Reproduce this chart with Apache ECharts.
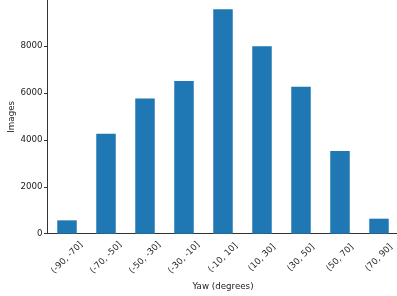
<!DOCTYPE html>
<html><head><meta charset="utf-8">
<script src="https://cdn.jsdelivr.net/npm/echarts@6/dist/echarts.min.js"></script>
<style>html,body{margin:0;padding:0;background:#fff}#c{width:397px;height:296px}</style>
</head><body><div id="c"></div>
<script>
const categories = ['(-90, -70]','(-70, -50]','(-50, -30]','(-30, -10]','(-10, 10]','(10, 30]','(30, 50]','(50, 70]','(70, 90]'];
const values = [570, 4260, 5770, 6510, 9570, 7990, 6270, 3530, 640];
const yTicks = [0, 2000, 4000, 6000, 8000];
const FS = 8.7;
const chart = echarts.init(document.getElementById('c'), null, {renderer:'canvas'});
chart.setOption({
  animation:false,
  grid:{left:47.5, top:0, width:351, height:233.7, containLabel:false, outerBoundsMode:'none'},
  xAxis:{type:'category', data:categories, boundaryGap:true,
    name:'Yaw (degrees)', nameLocation:'middle', nameGap:49, nameMoveOverlap:false,
    nameTextStyle:{fontFamily:'DejaVu Sans', fontSize:FS, color:'#222'},
    axisLine:{lineStyle:{color:'#333', width:1}},
    axisTick:{alignWithLabel:true, length:3.5, lineStyle:{color:'#333'}},
    axisLabel:{rotate:45, align:'center', verticalAlign:'middle', fontFamily:'DejaVu Sans', fontSize:FS, color:'#222', margin:24, interval:0}
  },
  yAxis:{type:'value', min:0, max:9966, interval:2000,
    name:'Images', nameLocation:'middle', nameGap:31, nameRotate:90, nameMoveOverlap:false,
    nameTextStyle:{fontFamily:'DejaVu Sans', fontSize:FS, color:'#222'},
    splitLine:{show:false},
    axisLine:{show:true, lineStyle:{color:'#333', width:1}},
    axisTick:{show:true, length:3.5, lineStyle:{color:'#333'}},
    axisLabel:{fontFamily:'DejaVu Sans', fontSize:FS, color:'#222', margin:5, showMaxLabel:false,
      formatter:v=>yTicks.includes(v)?String(v):''}
  },
  series:[{type:'bar', data:values, barWidth:'50%', itemStyle:{color:'#1f77b4'}}]
});
</script></body></html>
